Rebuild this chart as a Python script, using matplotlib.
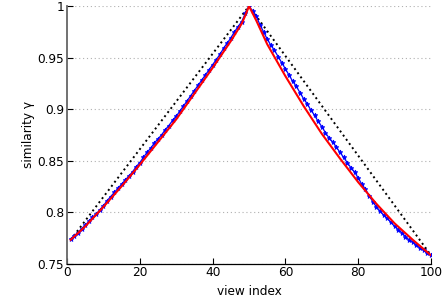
import numpy as np
import matplotlib
matplotlib.use('Agg')
import matplotlib.pyplot as plt

# view index for the measured curve
view_idx = list(range(1, 101))

# measured similarity (blue, one value per view)
measured = [
    0.774, 0.777, 0.780, 0.784, 0.787, 0.791, 0.795, 0.798, 0.802, 0.806,
    0.811, 0.815, 0.819, 0.823, 0.827, 0.831, 0.835, 0.839, 0.844, 0.848,
    0.853, 0.858, 0.862, 0.867, 0.871, 0.875, 0.880, 0.884, 0.889, 0.893,
    0.898, 0.903, 0.908, 0.913, 0.918, 0.923, 0.928, 0.933, 0.938, 0.943,
    0.948, 0.953, 0.959, 0.964, 0.969, 0.975, 0.980, 0.985, 0.993, 1.000,
    0.995, 0.990, 0.982, 0.975, 0.968, 0.962, 0.957, 0.951, 0.945, 0.939,
    0.933, 0.927, 0.922, 0.916, 0.910, 0.905, 0.899, 0.894, 0.888, 0.883,
    0.877, 0.872, 0.868, 0.863, 0.858, 0.853, 0.848, 0.843, 0.839, 0.833,
    0.827, 0.822, 0.816, 0.810, 0.805, 0.801, 0.797, 0.794, 0.790, 0.786,
    0.783, 0.780, 0.776, 0.773, 0.771, 0.768, 0.765, 0.763, 0.760, 0.758,
]

# fitted curve (red)
fit_x = [1, 5, 10, 15, 20, 25, 30, 35, 40, 45, 48, 49, 50,
         51, 52, 55, 60, 65, 70, 75, 80, 85, 90, 95, 100]
fit_y = [0.773, 0.786, 0.805, 0.825, 0.846, 0.868, 0.890, 0.915, 0.940, 0.966, 0.983, 0.991, 1.000,
         0.993, 0.986, 0.963, 0.932, 0.903, 0.876, 0.852, 0.829, 0.808, 0.789, 0.773, 0.758]

# linear reference (black dotted)
lin_x = [1, 50, 100]
lin_y = [0.773, 1.0, 0.758]

fig = plt.figure(figsize=(4.48, 3.05), dpi=100)
ax = fig.add_axes([0.1496, 0.136, 0.8124, 0.844])

ax.plot(lin_x, lin_y, ':', color='black', lw=1.4)
ax.plot(view_idx, measured, '-', color='#0000ff', lw=0.9,
        marker='*', markersize=3.5, markeredgewidth=0.6)
ax.plot(fit_x, fit_y, '-', color='#ff0000', lw=1.5)

ax.set_xlim(0, 100)
ax.set_ylim(0.75, 1.0)
ax.set_xticks([0, 20, 40, 60, 80, 100])
ax.set_yticks([0.75, 0.8, 0.85, 0.9, 0.95, 1.0])
ax.set_yticklabels(['0.75', '0.8', '0.85', '0.9', '0.95', '1'])

ax.yaxis.grid(True, linestyle=(0, (1, 2.5)), color='#b0b0b0', lw=0.8)
ax.spines['top'].set_visible(False)
ax.spines['right'].set_visible(False)
ax.spines['left'].set_color('#666666')
ax.spines['left'].set_linewidth(1.3)
ax.spines['bottom'].set_linewidth(0.9)
ax.tick_params(direction='in', length=4, width=0.8, labelsize=8.7, pad=2)

ax.set_xlabel('view index', fontsize=8.7, labelpad=4)
ax.set_ylabel('similarity γ', fontsize=8.7, labelpad=2)

fig.savefig('out.png', dpi=100)
